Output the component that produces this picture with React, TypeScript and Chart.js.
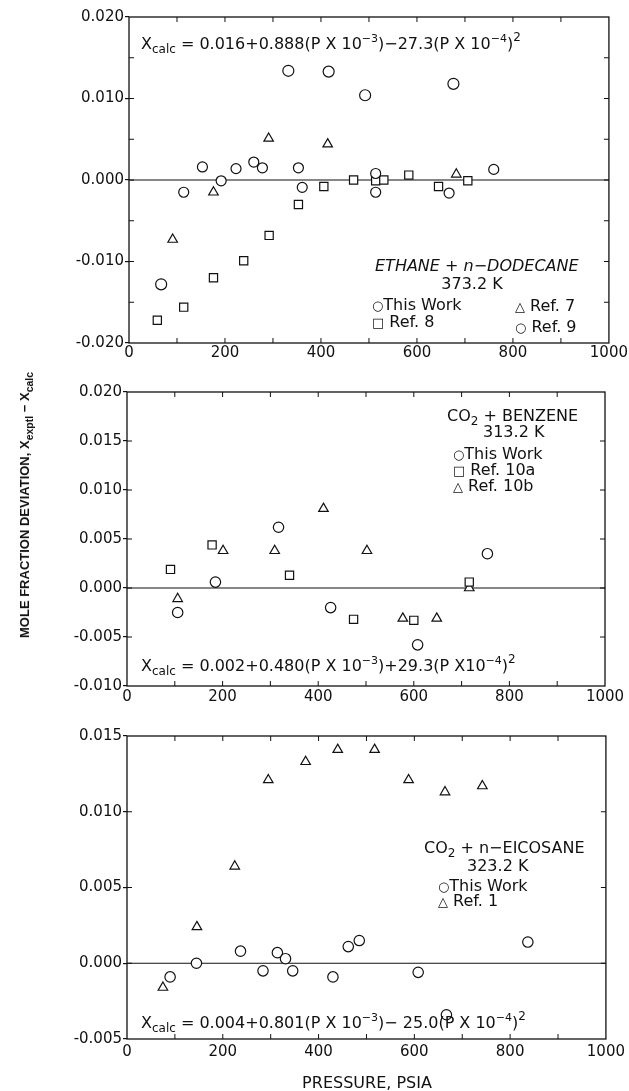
import React, { useEffect, useRef } from "react";
import { Chart, registerables } from "chart.js";

Chart.register(...registerables);

const FONT = '"DejaVu Sans", sans-serif';
const INK = "#111";

// ---------- shared axis values ----------
const xTickValues = [0, 200, 400, 600, 800, 1000];
const p1YTicks = [-0.02, -0.01, 0, 0.01, 0.02];
const p2YTicks = [-0.01, -0.005, 0, 0.005, 0.01, 0.015, 0.02];
const p3YTicks = [-0.005, 0, 0.005, 0.01, 0.015];

// ---------- Panel 1: ETHANE + n-DODECANE, 373.2 K ----------
const p1ThisWorkX = [114, 153, 192, 223, 260, 278, 353, 361, 514, 514, 667, 760];
const p1ThisWorkY = [-0.0015, 0.0016, -0.0001, 0.0014, 0.0022, 0.0015, 0.0015, -0.0009, 0.0008, -0.0015, -0.0016, 0.0013];
const p1Ref9X = [67, 332, 416, 492, 676];
const p1Ref9Y = [-0.0128, 0.0134, 0.0133, 0.0104, 0.0118];
const p1Ref8X = [59, 114, 176, 239, 292, 353, 406, 468, 514, 531, 583, 645, 706];
const p1Ref8Y = [-0.0172, -0.0156, -0.012, -0.0099, -0.0068, -0.003, -0.0008, 0.0, -0.0001, 0.0, 0.0006, -0.0008, -0.0001];
const p1Ref7X = [91, 176, 291, 414, 682];
const p1Ref7Y = [-0.0073, -0.0015, 0.0051, 0.0044, 0.0007];

// ---------- Panel 2: CO2 + BENZENE, 313.2 K ----------
const p2ThisWorkX = [106, 185, 317, 426, 608, 754];
const p2ThisWorkY = [-0.0025, 0.0006, 0.0062, -0.002, -0.0058, 0.0035];
const p2Ref10aX = [91, 178, 340, 474, 600, 716];
const p2Ref10aY = [0.0019, 0.0044, 0.0013, -0.0032, -0.0033, 0.0006];
const p2Ref10bX = [106, 201, 309, 411, 502, 577, 648, 716];
const p2Ref10bY = [-0.0011, 0.0038, 0.0038, 0.0081, 0.0038, -0.0031, -0.0031, 0.0];

// ---------- Panel 3: CO2 + n-EICOSANE, 323.2 K ----------
const p3ThisWorkX = [90, 145, 237, 284, 314, 331, 346, 430, 462, 485, 608, 667, 837];
const p3ThisWorkY = [-0.0009, 0.0, 0.0008, -0.0005, 0.0007, 0.0003, -0.0005, -0.0009, 0.0011, 0.0015, -0.0006, -0.0034, 0.0014];
const p3Ref1X = [75, 146, 225, 295, 373, 440, 517, 588, 664, 742];
const p3Ref1Y = [-0.0016, 0.0024, 0.0064, 0.0121, 0.0133, 0.0141, 0.0141, 0.0121, 0.0113, 0.0117];

type Seg = { t: string; s?: number; dy?: number };
type TextItem = { x: number; y: number; segs: Seg[]; align?: "left" | "center"; italic?: boolean };

function drawTexts(ctx: CanvasRenderingContext2D, items: TextItem[]) {
  ctx.save();
  ctx.fillStyle = INK;
  ctx.textBaseline = "alphabetic";
  ctx.textAlign = "left";
  for (const it of items) {
    const fontOf = (s: Seg) => `${it.italic ? "italic " : ""}${s.s ?? 16}px ${FONT}`;
    let w = 0;
    for (const s of it.segs) {
      ctx.font = fontOf(s);
      w += ctx.measureText(s.t).width;
    }
    let cx = it.align === "center" ? it.x - w / 2 : it.x;
    for (const s of it.segs) {
      ctx.font = fontOf(s);
      ctx.fillText(s.t, cx, it.y + (s.dy ?? 0));
      cx += ctx.measureText(s.t).width;
    }
  }
  ctx.restore();
}

const decor = {
  id: "decor",
  beforeDatasetsDraw(chart: any, _a: any, opts: any) {
    const { ctx, chartArea: a, scales } = chart;
    const x = scales.x;
    const y = scales.y;
    ctx.save();
    ctx.strokeStyle = INK;
    ctx.lineWidth = 1.3;
    ctx.strokeRect(a.left, a.top, a.right - a.left, a.bottom - a.top);
    const y0 = y.getPixelForValue(0);
    ctx.lineWidth = 1.1;
    ctx.beginPath();
    ctx.moveTo(a.left, y0);
    ctx.lineTo(a.right, y0);
    ctx.stroke();
    ctx.lineWidth = 1;
    const L = 5;
    const nx = Math.round((x.max - x.min) / opts.xMinor);
    ctx.beginPath();
    for (let i = 1; i < nx; i++) {
      const px = x.getPixelForValue(x.min + i * opts.xMinor);
      ctx.moveTo(px, a.bottom);
      ctx.lineTo(px, a.bottom - L);
      ctx.moveTo(px, a.top);
      ctx.lineTo(px, a.top + L);
    }
    const ny = Math.round((y.max - y.min) / opts.yMinor);
    for (let i = 1; i < ny; i++) {
      const py = y.getPixelForValue(y.min + i * opts.yMinor);
      ctx.moveTo(a.left, py);
      ctx.lineTo(a.left + L, py);
      ctx.moveTo(a.right, py);
      ctx.lineTo(a.right - L, py);
    }
    ctx.stroke();
    ctx.restore();
  },
  afterDraw(chart: any, _a: any, opts: any) {
    drawTexts(chart.ctx, opts.texts || []);
  },
};

const ds = (label: string, xs: number[], ys: number[], style: string, r: number) => ({
  label,
  data: xs.map((x, i) => ({ x, y: ys[i] })),
  pointStyle: style,
  pointRadius: r,
  pointHoverRadius: r,
  pointBorderWidth: 1.2,
  pointBorderColor: INK,
  pointBackgroundColor: "#fff",
  showLine: false,
});

type PanelCfg = {
  top: number;
  h: number;
  padTop: number;
  padRight: number;
  padBottom: number;
  yWidth: number;
  xHeight: number;
  xPad: number;
  yMin: number;
  yMax: number;
  yTicks: number[];
  datasets: any[];
  texts: TextItem[];
};

const formula = (a: string, b: string, c: string): Seg[] => [
  { t: "X", s: 16 },
  { t: "calc", s: 12, dy: 4 },
  { t: a, s: 16 },
  { t: "−3", s: 11, dy: -7 },
  { t: b, s: 16 },
  { t: "−4", s: 11, dy: -7 },
  { t: c, s: 16 },
  { t: "2", s: 12, dy: -8 },
];

const panels: PanelCfg[] = [
  {
    top: 0,
    h: 362,
    padTop: 17,
    padRight: 20,
    padBottom: 0,
    yWidth: 129,
    xHeight: 19,
    xPad: 1,
    yMin: -0.02,
    yMax: 0.02,
    yTicks: p1YTicks,
    datasets: [
      ds("This Work", p1ThisWorkX, p1ThisWorkY, "circle", 5),
      ds("Ref. 9", p1Ref9X, p1Ref9Y, "circle", 5.5),
      ds("Ref. 8", p1Ref8X, p1Ref8Y, "rect", 5.8),
      ds("Ref. 7", p1Ref7X, p1Ref7Y, "triangle", 5.5),
    ],
    texts: [
      { x: 141, y: 49, segs: formula(" = 0.016+0.888(P X 10", ")−27.3(P X 10", ")") },
      { x: 375, y: 271, italic: true, segs: [{ t: "ETHANE + n−DODECANE" }] },
      { x: 472, y: 289, align: "center", segs: [{ t: "373.2 K" }] },
      { x: 372, y: 310, segs: [{ t: "○", s: 13 }, { t: "This Work" }] },
      { x: 372, y: 327, segs: [{ t: "□", s: 13 }, { t: " Ref. 8" }] },
      { x: 515, y: 311, segs: [{ t: "△", s: 13 }, { t: " Ref. 7" }] },
      { x: 515, y: 332, segs: [{ t: "○", s: 13 }, { t: " Ref. 9" }] },
    ],
  },
  {
    top: 372,
    h: 333,
    padTop: 20,
    padRight: 24,
    padBottom: 0,
    yWidth: 127,
    xHeight: 19,
    xPad: 2,
    yMin: -0.01,
    yMax: 0.02,
    yTicks: p2YTicks,
    datasets: [
      ds("This Work", p2ThisWorkX, p2ThisWorkY, "circle", 5.2),
      ds("Ref. 10a", p2Ref10aX, p2Ref10aY, "rect", 5.8),
      ds("Ref. 10b", p2Ref10bX, p2Ref10bY, "triangle", 5.5),
    ],
    texts: [
      { x: 447, y: 49, segs: [{ t: "CO" }, { t: "2", s: 12, dy: 4 }, { t: " + BENZENE" }] },
      { x: 483, y: 65, segs: [{ t: "313.2 K" }] },
      { x: 453, y: 87, segs: [{ t: "○", s: 13 }, { t: "This Work" }] },
      { x: 453, y: 103, segs: [{ t: "□", s: 13 }, { t: " Ref. 10a" }] },
      { x: 453, y: 119, segs: [{ t: "△", s: 13 }, { t: " Ref. 10b" }] },
      { x: 141, y: 299, segs: formula(" = 0.002+0.480(P X 10", ")+29.3(P X10", ")") },
    ],
  },
  {
    top: 716,
    h: 375,
    padTop: 20,
    padRight: 22,
    padBottom: 30,
    yWidth: 127,
    xHeight: 22,
    xPad: 4,
    yMin: -0.005,
    yMax: 0.015,
    yTicks: p3YTicks,
    datasets: [
      ds("This Work", p3ThisWorkX, p3ThisWorkY, "circle", 5.2),
      ds("Ref. 1", p3Ref1X, p3Ref1Y, "triangle", 5.5),
    ],
    texts: [
      { x: 424, y: 137, segs: [{ t: "CO" }, { t: "2", s: 12, dy: 4 }, { t: " + n−EICOSANE" }] },
      { x: 467, y: 155, segs: [{ t: "323.2 K" }] },
      { x: 438, y: 175, segs: [{ t: "○", s: 13 }, { t: "This Work" }] },
      { x: 438, y: 190, segs: [{ t: "△", s: 13 }, { t: " Ref. 1" }] },
      { x: 141, y: 312, segs: formula(" = 0.004+0.801(P X 10", ")− 25.0(P X 10", ")") },
      { x: 367, y: 372, align: "center", segs: [{ t: "PRESSURE, PSIA" }] },
    ],
  },
];

function buildConfig(p: PanelCfg): any {
  return {
    type: "scatter",
    data: { datasets: p.datasets },
    options: {
      responsive: false,
      maintainAspectRatio: false,
      animation: false,
      events: [],
      layout: { padding: { top: p.padTop, right: p.padRight, left: 0, bottom: p.padBottom } },
      plugins: {
        legend: { display: false },
        tooltip: { enabled: false },
        decor: { texts: p.texts, xMinor: 100, yMinor: 0.005 },
      },
      scales: {
        x: {
          type: "linear",
          min: 0,
          max: 1000,
          afterBuildTicks: (s: any) => {
            s.ticks = xTickValues.map((v) => ({ value: v }));
          },
          afterFit: (s: any) => {
            s.height = p.xHeight;
          },
          grid: { display: false, drawTicks: false },
          border: { display: false },
          ticks: {
            font: { family: FONT, size: 15 },
            color: INK,
            padding: p.xPad,
            maxRotation: 0,
            autoSkip: false,
            callback: (v: any) => String(v),
          },
        },
        y: {
          type: "linear",
          min: p.yMin,
          max: p.yMax,
          afterBuildTicks: (s: any) => {
            s.ticks = p.yTicks.map((v) => ({ value: v }));
          },
          afterFit: (s: any) => {
            s.width = p.yWidth;
          },
          grid: { drawOnChartArea: false, drawTicks: true, tickLength: 4, color: INK, lineWidth: 1.2 },
          border: { display: false },
          ticks: {
            font: { family: FONT, size: 15 },
            color: INK,
            padding: 1,
            autoSkip: false,
            callback: (v: any) => Number(v).toFixed(3),
          },
        },
      },
    },
    plugins: [decor],
  };
}

function Panel({ p }: { p: PanelCfg }) {
  const ref = useRef<HTMLCanvasElement>(null);
  useEffect(() => {
    const chart = new Chart(ref.current as HTMLCanvasElement, buildConfig(p));
    return () => chart.destroy();
  }, [p]);
  return (
    <canvas
      ref={ref}
      width={629}
      height={p.h}
      style={{ position: "absolute", left: 0, top: p.top, width: 629, height: p.h }}
    />
  );
}

export default function App() {
  return (
    <div
      style={{
        position: "absolute",
        left: 0,
        top: 0,
        width: 629,
        height: 1091,
        background: "#fff",
        overflow: "hidden",
      }}
    >
      {panels.map((p, i) => (
        <Panel key={i} p={p} />
      ))}
      <div
        style={{
          position: "absolute",
          left: 25,
          top: 505,
          transform: "translate(-50%, -50%) rotate(-90deg)",
          whiteSpace: "nowrap",
          fontFamily: '"Liberation Sans", Arial, sans-serif',
          fontWeight: "bold",
          fontSize: 13,
          lineHeight: "16px",
          color: INK,
        }}
      >
        MOLE FRACTION DEVIATION, X
        <span style={{ fontSize: 10.5, position: "relative", top: 4 }}>exptl</span>
        {" − X"}
        <span style={{ fontSize: 10.5, position: "relative", top: 4 }}>calc</span>
      </div>
    </div>
  );
}
